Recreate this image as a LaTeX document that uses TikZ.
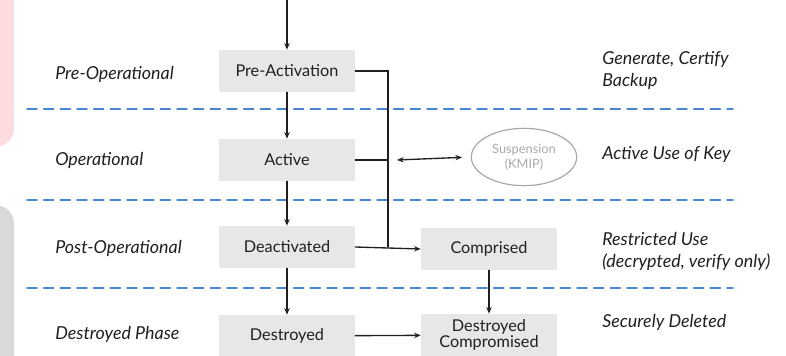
\documentclass[tikz,border=0pt]{standalone}
\usepackage{fontspec}
\setmainfont{Lato}
\usetikzlibrary{arrows.meta,shapes.geometric}
\definecolor{boxgray}{HTML}{E6E7E8}
\definecolor{lineblue}{HTML}{4A86D0}
\definecolor{ink}{HTML}{231F20}
\definecolor{softgray}{HTML}{A7A9AC}
\definecolor{tabpink}{HTML}{FDDCDD}
\definecolor{tabgray}{HTML}{D9D9D9}

\begin{document}
\begin{tikzpicture}[x=0.75pt,y=-0.75pt,>={Stealth[length=5pt,width=4pt]},font=\fontsize{12.2}{13}\selectfont,line cap=round,
  state/.style={fill=boxgray,minimum width=102pt,minimum height=31.5pt,inner sep=0pt,text=ink,align=center},
  phase/.style={anchor=west,inner sep=0pt,text=ink,font=\fontsize{13.4}{15}\selectfont\itshape},
  note/.style={anchor=west,inner sep=0pt,text=ink,align=left,font=\fontsize{13.4}{16.5}\selectfont\itshape},
  sep/.style={lineblue,line width=1.1pt,dash pattern=on 7.5pt off 5pt},
  flow/.style={ink,line width=1pt}]
\useasboundingbox (0,0) rectangle (786,356);
\begin{scope}
\clip (0,0) rectangle (786,356);
\fill[tabpink,rounded corners=14] (-30,-30) rectangle (14,147);
\fill[tabgray,rounded corners=14] (-30,205) rectangle (14,400);
\end{scope}
% phase separators
\draw[sep] (27,109) -- (733,109);
\draw[sep] (27,200) -- (733,200);
\draw[sep] (27,288) -- (733,288);
% phases
\node[phase] (prephase) at (55,74) {Pre-Operational};
\node[phase] (opphase) at (55,160) {Operational};
\node[phase] (postphase) at (55,248) {Post-Operational};
\node[phase] (destphase) at (55,334) {Destroyed Phase};
% key states
\node[state] (preact) at (287,71) {Pre-Activation};
\node[state] (active) at (287,160) {Active};
\node[state] (deact) at (287,247) {Deactivated};
\node[state] (destroyed) at (287,336) {Destroyed};
\node[state,font=\fontsize{12.2}{11.5}\selectfont] (destcompr) at (489,335) {Destroyed\\Compromised};
\node[state] (compr) at (489,249) {Comprised};
\node[ellipse,draw=softgray,line width=0.9pt,minimum width=79pt,minimum height=43pt,inner sep=0pt,align=center,text=softgray,font=\fontsize{9.6}{11}\selectfont] (susp) at (524,157) {Suspension\\(KMIP)};
% notes
\node[note] (gennote) at (602,71) {Generate, Certify\\Backup};
\node[note] (usenote) at (602,155) {Active Use of Key};
\node[note] (restnote) at (602,251) {Restricted Use\\(decrypted, verify only)};
\node[note] (delnote) at (602,322) {Securely Deleted};
% transitions
\coordinate (start) at (287,0);
\coordinate (bus) at (388,247);
\coordinate (link) at (397,160);
\draw[flow,->] (start) -- (preact);
\draw[flow,->] (preact) -- (active);
\draw[flow,->] (active) -- (deact);
\draw[flow,->] (deact) -- (destroyed);
\draw[flow] (preact.east) -| (bus);
\draw[flow] (active.east) -- (active.east -| bus);
\draw[flow,->] (deact.east) -- (compr.west);
\draw[flow,<->,shorten >=6.5pt] (link) -- (susp.west);
\draw[flow,->] (compr) -- (destcompr);
\draw[flow,->] (destroyed) -- (destcompr);
\end{tikzpicture}
\end{document}
